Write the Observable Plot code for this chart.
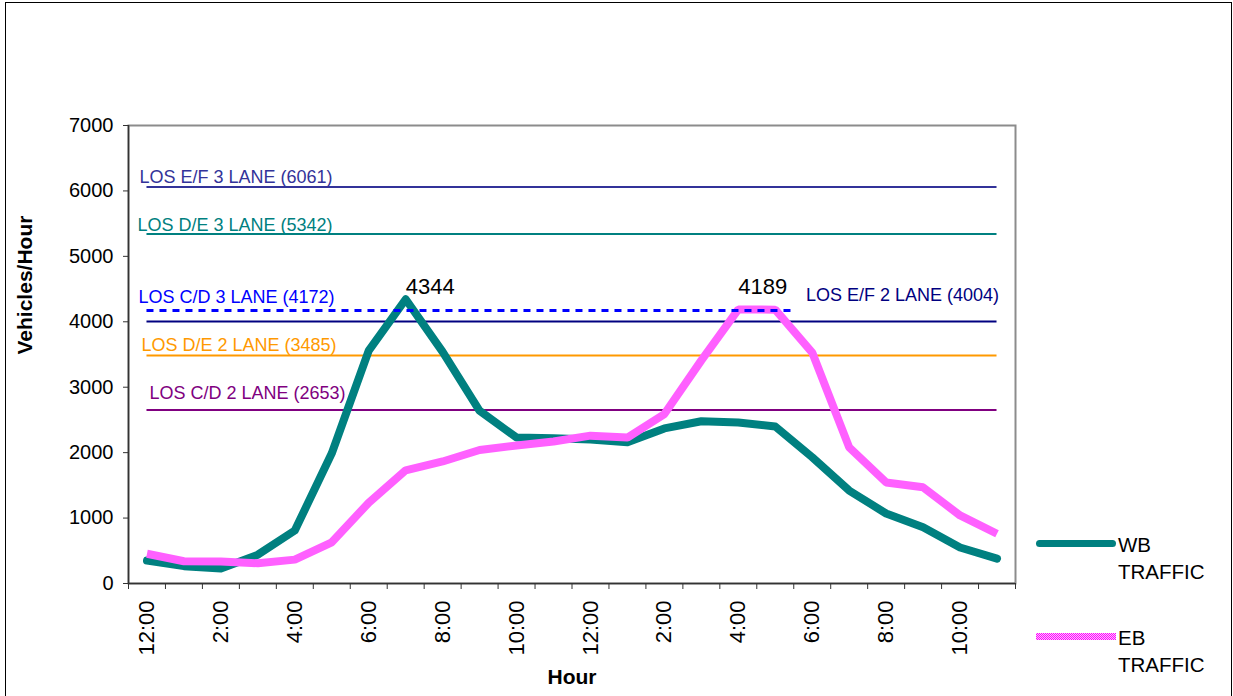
<!DOCTYPE html>
<html><head><meta charset="utf-8">
<script src="https://cdn.jsdelivr.net/npm/d3@7"></script>
<script src="https://cdn.jsdelivr.net/npm/@observablehq/plot@0.6"></script>
<style>
html,body{margin:0;padding:0;background:#fff;overflow:hidden;}
#wrap{position:relative;width:1233px;height:696px;overflow:hidden;font-family:"Liberation Sans",Arial,sans-serif;}
#border{position:absolute;left:5px;top:2px;width:1227px;height:740px;border:1.5px solid #000;box-sizing:border-box;}
#chart{position:absolute;left:0;top:0;}
.lg-bar{position:absolute;left:1036px;width:80px;height:7px;}
.lg-txt{position:absolute;left:1118px;font-size:20.5px;line-height:27px;color:#000;}
</style></head>
<body>
<div id="wrap">
  <div id="border"></div>
  <div id="chart"></div>
  <div class="lg-bar" style="top:540px;background:#008080;border-radius:4px;"></div>
  <div class="lg-txt" style="top:531px;">WB<br>TRAFFIC</div>
  <div class="lg-bar" style="top:633px;background:repeating-conic-gradient(#ff00ff 0 25%, #ffc0ff 0 50%) 0 0/2px 2px;"></div>
  <div class="lg-txt" style="top:624px;">EB<br>TRAFFIC</div>
</div>
<script>
// ---- data ----
const tickLabels = ["12:00","1:00","2:00","3:00","4:00","5:00","6:00","7:00","8:00","9:00","10:00","11:00",
                    "12:00","1:00","2:00","3:00","4:00","5:00","6:00","7:00","8:00","9:00","10:00","11:00"];
const wbTraffic = [350,265,230,440,810,1990,3560,4344,3540,2640,2230,2220,2200,2160,2370,2480,2460,2400,1930,1420,1070,860,550,380];
const ebTraffic = [455,340,335,310,365,630,1235,1730,1865,2040,2110,2170,2260,2230,2590,3410,4189,4185,3530,2080,1545,1470,1040,760];
const losNames  = ["LOS E/F 3 LANE","LOS D/E 3 LANE","LOS C/D 3 LANE","LOS E/F 2 LANE","LOS D/E 2 LANE","LOS C/D 2 LANE"];
const losValues = [6061,5342,4172,4004,3485,2653];
const losStartHour = [0,0,0,0,0,0];
const losEndHour   = [23,23,17.5,23,23,23];
const peakHours = [7,16];
const yTicks = [0,1000,2000,3000,4000,5000,6000,7000];

// ---- styles ----
const losStyle = [
  {color:"#333399", width:2, dash:null, at:0,  anchor:"start", dx:-7.5, dy:-10},
  {color:"#008080", width:2, dash:null, at:0,  anchor:"start", dx:-9.5, dy:-9},
  {color:"#0000ff", width:3, dash:"7,6", at:0, anchor:"start", dx:-8.5, dy:-13},
  {color:"#000080", width:2, dash:null, at:23, anchor:"end",   dx:2,    dy:-26},
  {color:"#ff9900", width:2, dash:null, at:0,  anchor:"start", dx:-5.5, dy:-10},
  {color:"#800080", width:2, dash:null, at:0,  anchor:"start", dx:2.5,  dy:-17}
];
const peakDy = [-5.5,-15.5];

const wbRows = tickLabels.map((t,i)=>({hour:i, v:wbTraffic[i]}));
const ebRows = tickLabels.map((t,i)=>({hour:i, v:ebTraffic[i]}));
const losRows = losNames.map((n,k)=>({name:n, value:losValues[k], x1:losStartHour[k], x2:losEndHour[k]}));
const boundaries = tickLabels.map((t,i)=>i-0.5).concat([tickLabels.length-0.5]);
const labelIdx = tickLabels.map((t,i)=>i).filter(i=>i%2===0);

const solidLos = losRows.map((r,k)=>losStyle[k].dash ? null :
  Plot.ruleY([r], {y:"value", x1:"x1", x2:"x2", stroke:losStyle[k].color, strokeWidth:losStyle[k].width})).filter(Boolean);
const dashedLos = losRows.map((r,k)=>!losStyle[k].dash ? null :
  Plot.ruleY([r], {y:"value", x1:"x1", x2:"x2", stroke:losStyle[k].color, strokeWidth:losStyle[k].width, strokeDasharray:losStyle[k].dash})).filter(Boolean);
const losText = losRows.map((r,k)=>
  Plot.text([r], {x:()=>losStyle[k].at, y:"value", text:d=>`${d.name} (${d.value})`, fill:losStyle[k].color,
    textAnchor:losStyle[k].anchor, lineAnchor:"middle", dx:losStyle[k].dx, dy:losStyle[k].dy, fontSize:18}));
const peakText = peakHours.map((h,k)=>{
  const v = (k===0? wbTraffic : ebTraffic)[h];
  return Plot.text([{hour:h, v}], {x:"hour", y:"v", text:d=>String(d.v), textAnchor:"start", lineAnchor:"bottom", dy:peakDy[k], fontSize:22, fill:"#000"});
});

const chart = Plot.plot({
  width:1233, height:696,
  marginLeft:128, marginRight:218, marginTop:125, marginBottom:113,
  x:{type:"linear", domain:[-0.5,23.5]},
  y:{domain:[0,7000]},
  style:{fontFamily:"Liberation Sans, Arial, sans-serif", background:"transparent", overflow:"visible"},
  marks:[
    Plot.frame({stroke:"#8c8c8c", strokeWidth:2}),
    Plot.axisY({ticks:yTicks, tickSize:5, tickPadding:10, fontSize:20, tickFormat:d=>String(d), label:null, stroke:"#333"}),
    Plot.axisX({ticks:boundaries, tickSize:6, tickFormat:()=>"", label:null, stroke:"#333"}),
    Plot.axisX({ticks:labelIdx, tickSize:0, tickPadding:17, tickRotate:-90, fontSize:22, tickFormat:i=>tickLabels[i], label:null}),
    Plot.ruleX([-0.5], {stroke:"#333", strokeWidth:1.5}),
    Plot.ruleY([0], {stroke:"#333", strokeWidth:1.5}),
    ...solidLos,
    Plot.line(wbRows, {x:"hour", y:"v", stroke:"#008080", strokeWidth:8, strokeLinecap:"round", strokeLinejoin:"round"}),
    Plot.line(ebRows, {x:"hour", y:"v", stroke:"url(#ebpat)", strokeWidth:8, strokeLinejoin:"miter", strokeLinecap:"butt"}),
    ...dashedLos,
    ...losText,
    ...peakText,
    Plot.text(["Hour"], {text:d=>d, frameAnchor:"bottom", dy:94, fontWeight:"bold", fontSize:21, lineAnchor:"middle"}),
    Plot.text(["Vehicles/Hour"], {text:d=>d, frameAnchor:"left", dx:-103, rotate:-90, fontWeight:"bold", fontSize:21, lineAnchor:"middle"})
  ]
});
const ns = "http://www.w3.org/2000/svg";
const defs = document.createElementNS(ns, "defs");
defs.innerHTML = '<pattern id="ebpat" width="2" height="2" patternUnits="userSpaceOnUse">' +
  '<rect width="2" height="2" fill="#ffc0ff"/><rect width="1" height="1" fill="#ff00ff"/>' +
  '<rect x="1" y="1" width="1" height="1" fill="#ff00ff"/></pattern>';
chart.insertBefore(defs, chart.firstChild);
document.getElementById("chart").appendChild(chart);
</script>
</body></html>
